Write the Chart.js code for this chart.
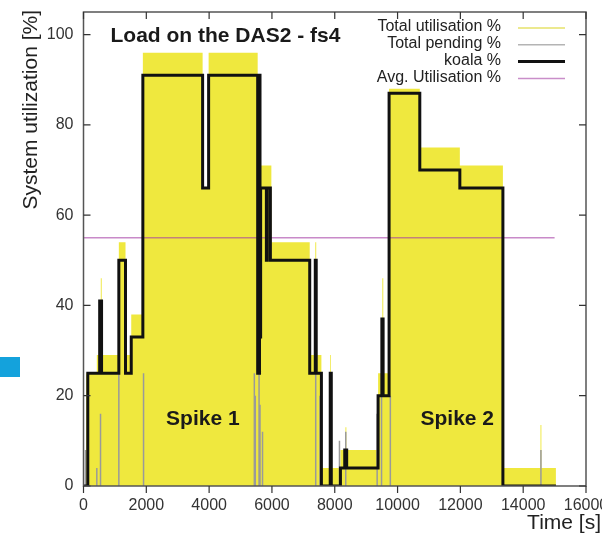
<!DOCTYPE html>
<html><head><meta charset="utf-8">
<script src="https://cdn.jsdelivr.net/npm/chart.js@4.4.1/dist/chart.umd.min.js"></script>
<style>
html,body{margin:0;padding:0;background:#fff;overflow:hidden;width:602px;height:533px;}
#wrap{position:relative;width:620px;height:533px;}
#mark{position:absolute;left:0;top:357px;width:20px;height:20px;background:#14a2dc;}
</style></head><body>
<div id="wrap"><canvas id="c" width="620" height="533"></canvas></div>
<div id="mark"></div>
<script>
const xTicks = [0, 2000, 4000, 6000, 8000, 10000, 12000, 14000, 16000];
const yTicks = [0, 20, 40, 60, 80, 100];
const seriesLabels = ['Total utilisation %', 'Total pending %', 'koala %', 'Avg. Utilisation %'];
const chartTitle = 'Load on the DAS2 - fs4';
const xTitle = 'Time [s]';
const yTitle = 'System utilization [%]';

// Total utilisation % (step starts, values)
const utilX = [0, 86, 424, 550, 580, 1125, 1338, 1520, 1890, 3793, 3984, 5546, 5982, 7203, 7380, 7410, 7575, 7856, 7880, 8181, 8340, 8370, 9380, 9515, 9545, 9730, 10708, 11983, 13354, 14550, 14580, 15043];
const utilY = [0, 25, 29, 46, 29, 54, 29, 38, 96, 66, 96, 71, 54, 29, 54, 29, 4, 29, 4, 8, 13, 8, 25, 46, 25, 88, 75, 71, 4, 13.5, 4, 0];

// koala % (step starts, values)
const koalaX = [0, 137, 515, 575, 1125, 1338, 1520, 1890, 3793, 3984, 5546, 5570, 5590, 5605, 5620, 5640, 5823, 5850, 5950, 7203, 7380, 7410, 7575, 7856, 7890, 8181, 8318, 8380, 9380, 9500, 9540, 9730, 10708, 11983, 13354, 15043];
const koalaY = [0, 25, 41, 25, 50, 25, 33, 91, 66, 91, 25, 91, 25, 91, 33, 66, 50, 66, 50, 25, 50, 25, 0, 25, 0, 4, 8, 4, 20, 37, 20, 87, 70, 66, 0, 0];

// Total pending % (impulses)
const pendX = [64, 424, 542, 1125, 1912, 5440, 5470, 5590, 5620, 5700, 7394, 7530, 8150, 8350, 9350, 9490, 9770, 14565];
const pendY = [8, 4, 16, 25, 25, 25, 20, 25, 18, 12, 25, 20, 10, 12, 16, 25, 20, 8];

// Avg. Utilisation %
const avgX = [0, 15000];
const avgY = [55, 55];

const spikeLabels = [{text: 'Spike 1', x: 3800, y: 13.5}, {text: 'Spike 2', x: 11900, y: 13.5}];

const FONT = "'Liberation Sans', Arial, Helvetica, sans-serif";
const legendStyle = [
  {color: '#e6e26a', width: 1.5},
  {color: '#b4b4b4', width: 1.5},
  {color: '#111111', width: 3},
  {color: '#c98ec9', width: 1.5}
];

const pts = (xs, ys) => xs.map((x, i) => ({x: x, y: ys[i]}));
const pendPts = pendX.flatMap((x, i) => [{x: x, y: 0}, {x: x, y: pendY[i]}, {x: x, y: null}]);

const deco = {
  id: 'deco',
  afterDatasetsDraw(chart) {
    const {ctx, chartArea: a, scales} = chart;
    const xs = scales.x, ys = scales.y;
    ctx.save();
    // frame
    ctx.strokeStyle = '#555';
    ctx.lineWidth = 1.5;
    ctx.strokeRect(a.left, a.top, a.right - a.left, a.bottom - a.top);
    // ticks
    ctx.strokeStyle = '#333';
    ctx.lineWidth = 1.2;
    ctx.beginPath();
    xTicks.forEach(v => {
      const px = xs.getPixelForValue(v);
      ctx.moveTo(px, a.bottom); ctx.lineTo(px, a.bottom + 7);
      ctx.moveTo(px, a.top); ctx.lineTo(px, a.top + 7);
    });
    yTicks.forEach(v => {
      const py = ys.getPixelForValue(v);
      ctx.moveTo(a.left, py); ctx.lineTo(a.left + 7, py);
      ctx.moveTo(a.right, py); ctx.lineTo(a.right - 7, py);
    });
    ctx.stroke();

    // title
    ctx.fillStyle = '#1a1a1a';
    ctx.font = 'bold 21px ' + FONT;
    ctx.textAlign = 'left';
    ctx.textBaseline = 'alphabetic';
    ctx.fillText(chartTitle, a.left + 27, a.top + 30);

    // spike labels
    ctx.textAlign = 'center';
    spikeLabels.forEach(s => {
      ctx.fillText(s.text, xs.getPixelForValue(s.x), ys.getPixelForValue(s.y));
    });

    // legend
    ctx.font = '16px ' + FONT;
    ctx.textAlign = 'right';
    ctx.textBaseline = 'middle';
    seriesLabels.forEach((lab, i) => {
      const yy = a.top + 15 + i * 16.8;
      ctx.fillStyle = '#222';
      ctx.fillText(lab, 501, yy);
      ctx.strokeStyle = legendStyle[i].color;
      ctx.lineWidth = legendStyle[i].width;
      ctx.beginPath();
      ctx.moveTo(518, yy + 1); ctx.lineTo(565, yy + 1);
      ctx.stroke();
    });

    // axis titles
    ctx.fillStyle = '#222';
    ctx.font = '21px ' + FONT;
    ctx.textAlign = 'right';
    ctx.textBaseline = 'alphabetic';
    ctx.fillText(xTitle, 601, 529);
    ctx.save();
    ctx.translate(37, 10);
    ctx.rotate(-Math.PI / 2);
    ctx.textAlign = 'right';
    ctx.fillText(yTitle, 0, 0);
    ctx.restore();
    ctx.restore();
  }
};

new Chart(document.getElementById('c'), {
  type: 'line',
  data: {
    datasets: [
      {label: seriesLabels[2], data: pts(koalaX, koalaY), stepped: true, borderColor: '#111', borderWidth: 3, pointRadius: 0, fill: false, order: 0, borderJoinStyle: 'miter'},
      {label: seriesLabels[3], data: pts(avgX, avgY), borderColor: 'rgba(165,60,165,0.6)', borderWidth: 1.5, pointRadius: 0, fill: false, order: 1},
      {label: seriesLabels[1], data: pendPts, borderColor: '#9a9a9a', borderWidth: 1.5, pointRadius: 0, fill: false, spanGaps: false, order: 2},
      {label: seriesLabels[0], data: pts(utilX, utilY), stepped: true, borderWidth: 0, borderColor: 'rgba(0,0,0,0)', backgroundColor: '#efe83e', pointRadius: 0, fill: 'origin', order: 3}
    ]
  },
  options: {
    responsive: false,
    devicePixelRatio: 1,
    animation: false,
    events: [],
    layout: {padding: {left: 0, right: 34, top: 12, bottom: 0}},
    plugins: {legend: {display: false}, tooltip: {enabled: false}, title: {display: false}},
    scales: {
      x: {
        type: 'linear', min: 0, max: 16000, offset: false,
        grid: {display: false, drawTicks: false},
        border: {display: false},
        afterBuildTicks: s => { s.ticks = xTicks.map(v => ({value: v})); },
        afterFit: s => { s.height = 47; s.paddingLeft = 0; s.paddingRight = 0; s.paddingTop = 0; s.paddingBottom = 0; },
        ticks: {padding: 10, maxRotation: 0, autoSkip: false, color: '#333', font: {family: FONT, size: 16}, callback: v => String(v)}
      },
      y: {
        type: 'linear', min: 0, max: 105,
        grid: {display: false, drawTicks: false},
        border: {display: false},
        afterBuildTicks: s => { s.ticks = yTicks.map(v => ({value: v})); },
        afterFit: s => { s.width = 83.5; s.paddingLeft = 0; s.paddingRight = 0; s.paddingTop = 0; s.paddingBottom = 0; },
        ticks: {padding: 10, color: '#333', font: {family: FONT, size: 16}, callback: v => String(v)}
      }
    }
  },
  plugins: [deco]
});
</script></body></html>
